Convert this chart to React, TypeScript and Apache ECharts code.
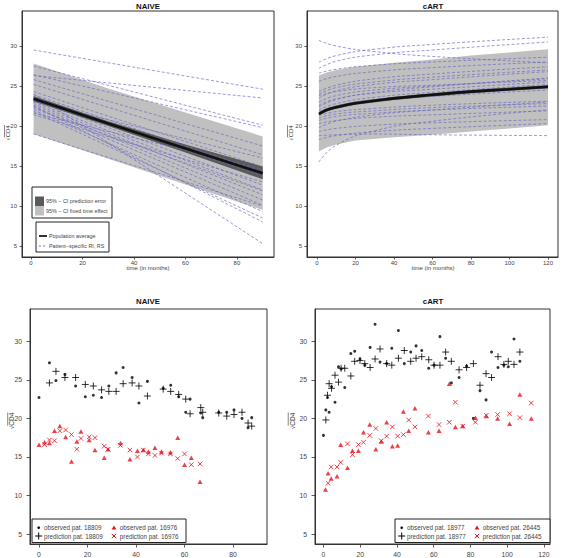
import React, { useEffect, useRef } from "react";
import * as echarts from "echarts";

// ---------- NAIVE: population fit, confidence bands, patient lines ----------
const naiveTime = [1, 30, 60, 90];
const naiveMean = [23.4, 20.3, 17.2, 14.1];
const naivePredLo = [23.05, 20.0, 16.7, 13.35];
const naivePredHi = [23.75, 20.6, 17.7, 14.95];
const naiveFixedLo = [19.0, 15.9, 12.7, 9.5];
const naiveFixedHi = [27.8, 24.7, 21.7, 18.7];

const naivePatientTime = [1, 90];
const naivePatients: number[][] = [
  [29.5, 24.6], [26.3, 23.5], [27.5, 20.1], [26.4, 19.8], [25.8, 17.5],
  [25.2, 16.4], [24.3, 14.9], [23.9, 14.3], [23.6, 13.7], [23.3, 12.6],
  [23.0, 12.0], [22.8, 11.4], [22.6, 10.75], [22.4, 10.1], [22.2, 11.9],
  [22.0, 9.3], [21.8, 8.5], [22.5, 8.0], [21.4, 13.0], [24.0, 5.3],
  [19.0, 10.0], [23.1, 16.0], [21.6, 14.6],
];

// ---------- cART: population fit, confidence bands, patient curves ----------
const cartTime = [1, 5, 10, 20, 40, 60, 80, 100, 120];
const cartMean = [21.5, 22.0, 22.35, 22.85, 23.45, 23.9, 24.3, 24.6, 24.9];
const cartPredLo = [21.3, 21.8, 22.15, 22.65, 23.25, 23.7, 24.1, 24.4, 24.7];
const cartPredHi = [21.7, 22.2, 22.55, 23.05, 23.65, 24.1, 24.5, 24.8, 25.1];
const cartFixedLo = [16.8, 17.3, 17.7, 18.2, 18.6, 18.9, 19.3, 19.7, 20.1];
const cartFixedHi = [26.3, 26.7, 27.0, 27.4, 27.9, 28.3, 28.8, 29.2, 29.6];

const cartPatientTime = [1, 10, 30, 60, 120];
const cartPatients: number[][] = [
  [30.7, 30.0, 29.3, 28.7, 27.9],
  [28.0, 28.8, 29.6, 30.2, 31.1],
  [27.2, 28.1, 28.9, 29.5, 30.5],
  [26.6, 27.1, 27.6, 28.0, 28.6],
  [25.6, 26.2, 26.8, 27.3, 28.0],
  [24.3, 25.1, 25.9, 26.5, 27.4],
  [24.0, 24.8, 25.5, 26.1, 27.0],
  [23.5, 24.4, 25.2, 25.8, 26.8],
  [23.8, 24.3, 24.8, 25.1, 25.7],
  [23.0, 23.8, 24.5, 25.0, 25.9],
  [22.6, 23.4, 24.1, 24.6, 25.5],
  [22.4, 23.3, 24.2, 24.9, 26.0],
  [22.0, 22.8, 23.6, 24.2, 25.2],
  [21.8, 22.5, 23.2, 23.7, 24.5],
  [21.6, 22.5, 23.3, 23.9, 24.9],
  [21.3, 21.8, 22.2, 22.6, 23.1],
  [21.0, 21.5, 21.9, 22.3, 22.8],
  [20.7, 21.2, 21.6, 22.0, 22.5],
  [20.3, 20.7, 21.1, 21.4, 21.9],
  [19.8, 20.6, 21.4, 22.0, 23.0],
  [19.3, 19.7, 20.1, 20.4, 20.8],
  [18.8, 18.9, 19.0, 18.9, 18.8],
  [18.3, 18.8, 19.3, 19.7, 20.3],
  [15.5, 17.6, 19.4, 20.6, 22.0],
];

// ---------- Individual patients: observed vs predicted ----------
const naiveObs18809: number[][] = [
  [0, 22.7], [4.3, 27.2], [7.0, 24.9], [10.7, 25.7], [15.1, 24.2], [19.1, 22.8],
  [22.4, 23.0], [25.8, 22.7], [28.8, 24.2], [31.8, 25.9], [34.7, 26.6], [38.4, 25.3],
  [41.2, 22.0], [44.7, 24.8], [51.2, 23.9], [54.3, 24.3], [57.6, 22.8], [60.5, 20.8],
  [62.3, 22.5], [66.7, 20.7], [67.5, 20.1], [74.1, 20.8], [77.4, 20.8], [80.4, 21.1],
  [83.7, 20.0], [86.2, 18.8], [87.7, 20.1],
];
const naivePred18809: number[][] = [
  [4.3, 24.6], [7.0, 26.1], [10.7, 25.3], [15.1, 25.3], [19.1, 24.4], [22.4, 24.2],
  [25.8, 23.7], [28.8, 23.5], [31.8, 23.5], [34.7, 24.5], [38.4, 24.6], [41.2, 24.2],
  [44.7, 22.9], [51.2, 23.8], [54.3, 23.5], [57.6, 23.1], [60.5, 22.5], [62.3, 20.6],
  [66.7, 21.4], [67.5, 20.8], [74.1, 20.7], [77.4, 20.3], [80.4, 20.5], [83.7, 20.8],
  [86.2, 19.4], [87.7, 19.0],
];
const naiveObs16976: number[][] = [
  [0, 16.6], [2.3, 16.9], [4.3, 16.8], [6.4, 18.4], [8.6, 19.0], [11.0, 17.6],
  [13.4, 14.4], [15.6, 17.0], [17.3, 18.3], [20.7, 17.2], [23.1, 15.9], [26.9, 14.9],
  [28.5, 16.0], [33.6, 16.8], [37.5, 14.7], [40.6, 15.8], [43.0, 15.9], [45.1, 15.7],
  [47.8, 16.2], [50.5, 15.7], [54.2, 15.6], [57.2, 17.5], [60.0, 14.0], [62.8, 14.9],
  [66.4, 11.8],
];
const naivePred16976: number[][] = [
  [2.3, 16.6], [4.3, 17.2], [6.4, 17.1], [8.6, 18.4], [11.0, 18.5], [13.4, 17.9],
  [15.6, 16.0], [17.3, 17.4], [20.7, 17.6], [23.1, 17.5], [26.9, 16.4], [28.5, 16.0],
  [33.6, 16.5], [37.5, 15.9], [40.6, 15.0], [43.0, 15.9], [45.1, 15.4], [47.8, 15.2],
  [50.5, 15.5], [54.2, 15.4], [57.2, 14.8], [60.0, 15.4], [62.8, 14.0], [66.4, 14.1],
];

const cartObs18977: number[][] = [
  [0, 17.8], [1.3, 21.1], [2.2, 22.7], [3.1, 20.8], [4.4, 24.1], [6.3, 22.1],
  [8.2, 26.7], [9.6, 26.4], [11.6, 24.0], [14.9, 28.4], [17.0, 28.7], [19.9, 27.7],
  [22.5, 26.9], [25.4, 29.2], [28.1, 32.2], [30.8, 27.3], [34.4, 27.1], [37.2, 29.1],
  [40.8, 31.4], [44.0, 27.1], [47.5, 28.6], [50.4, 29.4], [53.5, 28.8], [57.3, 26.5],
  [60.2, 26.9], [63.4, 30.6], [66.5, 27.8], [69.6, 24.6], [73.8, 25.3], [77.9, 26.8],
  [81.6, 20.0], [85.2, 23.6], [88.5, 22.4], [91.5, 28.6], [95.0, 26.6], [98.2, 26.9],
  [100.6, 26.7], [103.7, 30.3], [106.9, 27.4],
];
const cartPred18977: number[][] = [
  [1.3, 19.8], [2.2, 23.0], [3.1, 24.5], [4.4, 23.9], [6.3, 25.6], [8.2, 24.7],
  [9.6, 26.5], [11.6, 26.5], [14.9, 25.5], [17.0, 27.4], [19.9, 27.5], [22.5, 27.1],
  [25.4, 26.6], [28.1, 27.7], [30.8, 29.0], [34.4, 27.1], [37.2, 26.9], [40.8, 27.8],
  [44.0, 28.8], [47.5, 27.4], [50.4, 27.8], [53.5, 28.0], [57.3, 27.6], [60.2, 26.9],
  [63.4, 26.9], [66.5, 28.6], [69.6, 27.4], [73.8, 26.3], [77.9, 26.6], [81.6, 27.1],
  [85.2, 24.3], [88.5, 25.8], [91.5, 25.3], [95.0, 28.0], [98.2, 27.0], [100.6, 27.4],
  [103.7, 27.0], [106.9, 28.6],
];
const cartObs26445: number[][] = [
  [1.1, 10.8], [2.5, 12.9], [4.2, 12.2], [7.4, 12.5], [9.4, 16.6], [13.1, 13.6],
  [15.8, 15.8], [19.0, 15.8], [21.8, 18.2], [25.2, 19.2], [28.5, 16.0], [31.5, 17.0],
  [34.4, 19.5], [37.5, 16.4], [40.4, 16.5], [43.5, 20.9], [46.4, 18.4], [49.8, 21.3],
  [57.1, 18.2], [62.9, 18.4], [68.5, 24.5], [71.8, 18.9], [75.8, 19.0], [82.7, 20.1],
  [88.6, 20.3], [94.8, 20.0], [101.3, 19.3], [106.9, 23.1], [113.1, 20.0],
];
const cartPred26445: number[][] = [
  [2.5, 11.6], [4.2, 13.7], [7.4, 13.7], [9.4, 14.3], [13.1, 16.7], [15.8, 15.3],
  [19.0, 16.6], [21.8, 16.9], [25.2, 17.8], [28.5, 18.7], [31.5, 17.1], [34.4, 17.7],
  [37.5, 18.9], [40.4, 17.7], [43.5, 17.9], [46.4, 19.8], [49.8, 18.9], [57.1, 20.3],
  [62.9, 19.2], [68.5, 19.5], [71.8, 22.1], [75.8, 19.0], [82.7, 19.5], [88.6, 20.4],
  [94.8, 20.5], [101.3, 20.6], [106.9, 20.1], [113.1, 22.0],
];

const naiveTicks = [0, 20, 40, 60, 80];
const cartTicks = [0, 20, 40, 60, 80, 100, 120];
const yTicks = [5, 10, 15, 20, 25, 30];

const FONT = '"Liberation Sans", Arial, Helvetica, sans-serif';
const FRAME = "#333";
const LABEL = "#444";
const RED = "#e8101a";
const PATIENT = "#6a6ac4";
const PLUS = "path://M5,0L5,10M0,5L10,5";
const CROSS = "path://M0,0L10,10M0,10L10,0";

const zip = (xs: number[], ys: number[]) => xs.map((x, i) => [x, ys[i]]);

function xAxis(gi: number, min: number, max: number, ticks: number[], fontSize: number, margin: number, tick: number) {
  return {
    type: "value", gridIndex: gi, min, max,
    axisLine: { show: true, onZero: false, lineStyle: { color: FRAME, width: 1 } },
    axisTick: { show: true, inside: false, length: tick, customValues: ticks, lineStyle: { color: FRAME, width: 0.8 } },
    axisLabel: { customValues: ticks, fontSize, margin, color: LABEL, fontFamily: FONT },
    splitLine: { show: false },
  };
}
function yAxis(gi: number, min: number, max: number, fontSize: number, margin: number, tick: number) {
  return {
    type: "value", gridIndex: gi, min, max,
    axisLine: { show: true, onZero: false, lineStyle: { color: FRAME, width: 1 } },
    axisTick: { show: true, inside: false, length: tick, customValues: yTicks, lineStyle: { color: FRAME, width: 0.8 } },
    axisLabel: { customValues: yTicks, fontSize, margin, color: LABEL, fontFamily: FONT },
    splitLine: { show: false },
  };
}

// Confidence band: one filled polygon between the lower and upper bound,
// positioned through the grid's own coordinate system.
function band(gi: number, xs: number[], lo: number[], hi: number[], color: string, z: number) {
  return {
    type: "custom", xAxisIndex: gi, yAxisIndex: gi, silent: true, z,
    data: xs.map((x, i) => [x, lo[i], hi[i]]),
    encode: { x: 0, y: [1, 2] },
    renderItem: (params: any, api: any) => {
      if (params.dataIndex !== 0) return null;
      const upper = xs.map((x, i) => api.coord([x, hi[i]]));
      const lower = xs.map((x, i) => api.coord([x, lo[i]])).reverse();
      return { type: "polygon", shape: { points: upper.concat(lower) }, style: { fill: color } };
    },
  };
}

function patientLines(gi: number, xs: number[], rows: number[][], smooth: boolean) {
  return rows.map((r) => ({
    type: "line", xAxisIndex: gi, yAxisIndex: gi, smooth, symbol: "none", silent: true, z: 4,
    lineStyle: { color: PATIENT, width: 0.8, type: [3, 2], opacity: 0.85 },
    data: zip(xs, r),
  }));
}

function meanLine(gi: number, xs: number[], ys: number[], smooth: boolean) {
  return {
    type: "line", xAxisIndex: gi, yAxisIndex: gi, smooth, symbol: "none", silent: true, z: 5,
    lineStyle: { color: "#111", width: 2.6 },
    data: zip(xs, ys),
  };
}

function points(gi: number, data: number[][], kind: "dot" | "plus" | "tri" | "cross") {
  const base: any = { type: "scatter", xAxisIndex: gi, yAxisIndex: gi, silent: true, z: 6, data };
  if (kind === "dot") return { ...base, symbol: "circle", symbolSize: 3, itemStyle: { color: "#000" } };
  if (kind === "plus") return { ...base, symbol: PLUS, symbolSize: 7, itemStyle: { color: "transparent", borderColor: "#000", borderWidth: 1 } };
  if (kind === "tri") return { ...base, symbol: "triangle", symbolSize: [5, 4.5], itemStyle: { color: RED } };
  return { ...base, symbol: CROSS, symbolSize: 4.5, itemStyle: { color: "transparent", borderColor: RED, borderWidth: 1 } };
}

function text(x: number, y: number, s: string, size: number, opts: any = {}) {
  return {
    type: "text", x, y, silent: true,
    style: {
      text: s, fontSize: size, fontFamily: FONT, fill: opts.fill || LABEL,
      fontWeight: opts.bold ? "bold" : "normal",
      align: opts.align || "left", verticalAlign: "middle",
    },
  };
}

function sqrtLabel(x: number, y: number, size: number) {
  return {
    type: "group", x, y, rotation: Math.PI / 2, silent: true,
    children: [
      { type: "text", x: 0, y: 0, style: { text: "√CD4", fontSize: size, fontFamily: FONT, fill: "#333", align: "center", verticalAlign: "middle" } },
      { type: "line", shape: { x1: -0.45 * size * 1.6, y1: -size * 0.58, x2: size * 1.3, y2: -size * 0.58 }, style: { stroke: "#333", lineWidth: 0.6 } },
    ],
  };
}

function pairLegend(left: number, top: number, w: number, col2: number, a: string, b: string) {
  const r1 = top + 8.7;
  const r2 = top + 17;
  const m1 = left + 6.7;
  const m2 = left + col2;
  return [
    { type: "rect", shape: { x: left, y: top, width: w, height: 23.5 }, style: { fill: "#fff", stroke: "#222", lineWidth: 1 }, silent: true },
    { type: "circle", shape: { cx: m1, cy: r1, r: 1.3 }, style: { fill: "#000" }, silent: true },
    text(m1 + 5.3, r1, "observed pat. " + a, 6.3),
    { type: "polygon", shape: { points: [[m2 - 2.4, r1 + 1.8], [m2 + 2.4, r1 + 1.8], [m2, r1 - 2.2]] }, style: { fill: RED }, silent: true },
    text(m2 + 5.8, r1, "observed pat. " + b, 6.3),
    { type: "line", shape: { x1: m1 - 3.5, y1: r2, x2: m1 + 3.5, y2: r2 }, style: { stroke: "#000", lineWidth: 1 }, silent: true },
    { type: "line", shape: { x1: m1, y1: r2 - 3.5, x2: m1, y2: r2 + 3.5 }, style: { stroke: "#000", lineWidth: 1 }, silent: true },
    text(m1 + 5.3, r2, "prediction pat. " + a, 6.3),
    { type: "line", shape: { x1: m2 - 2.2, y1: r2 - 2.2, x2: m2 + 2.2, y2: r2 + 2.2 }, style: { stroke: RED, lineWidth: 1 }, silent: true },
    { type: "line", shape: { x1: m2 - 2.2, y1: r2 + 2.2, x2: m2 + 2.2, y2: r2 - 2.2 }, style: { stroke: RED, lineWidth: 1 }, silent: true },
    text(m2 + 5.8, r2, "prediction pat. " + b, 6.3),
  ];
}

export default function App() {
  const ref = useRef<HTMLDivElement>(null);

  useEffect(() => {
    document.body.style.margin = "0";
    if (!ref.current) return;
    const chart = echarts.init(ref.current, undefined, { renderer: "svg" });

    const grids = [
      { left: 22, top: 11, width: 252, height: 246 },
      { left: 307, top: 11, width: 251, height: 246 },
      { left: 30, top: 309, width: 237, height: 238.5 },
      { left: 315, top: 309, width: 235, height: 238.5 },
    ].map((g) => ({ ...g, show: true, borderColor: FRAME, borderWidth: 1, backgroundColor: "transparent", containLabel: false }));

    const series: any[] = [
      band(0, naiveTime, naiveFixedLo, naiveFixedHi, "#c0c0c0", 1),
      band(0, naiveTime, naivePredLo, naivePredHi, "#5a5a5a", 2),
      ...patientLines(0, naivePatientTime, naivePatients, false),
      meanLine(0, naiveTime, naiveMean, false),

      band(1, cartTime, cartFixedLo, cartFixedHi, "#c0c0c0", 1),
      band(1, cartTime, cartPredLo, cartPredHi, "#5a5a5a", 2),
      ...patientLines(1, cartPatientTime, cartPatients, true),
      meanLine(1, cartTime, cartMean, true),

      points(2, naiveObs18809, "dot"),
      points(2, naivePred18809, "plus"),
      points(2, naiveObs16976, "tri"),
      points(2, naivePred16976, "cross"),

      points(3, cartObs18977, "dot"),
      points(3, cartPred18977, "plus"),
      points(3, cartObs26445, "tri"),
      points(3, cartPred26445, "cross"),
    ];

    const graphic: any[] = [
      text(148, 6.5, "NAIVE", 7.8, { bold: true, align: "center", fill: "#111" }),
      text(433, 6.5, "cART", 7.8, { bold: true, align: "center", fill: "#111" }),
      text(148, 301.5, "NAIVE", 7.8, { bold: true, align: "center", fill: "#111" }),
      text(433, 301.5, "cART", 7.8, { bold: true, align: "center", fill: "#111" }),
      text(148, 268, "time (in months)", 6, { align: "center" }),
      text(433, 268, "time (in months)", 6, { align: "center" }),
      sqrtLabel(8, 133, 6),
      sqrtLabel(291, 133, 6),
      sqrtLabel(11.5, 421, 6.5),
      sqrtLabel(292, 421, 6.5),

      // band legend
      { type: "rect", shape: { x: 32, y: 187, width: 80, height: 31 }, style: { fill: "#fff", stroke: "#222", lineWidth: 1 }, silent: true },
      { type: "rect", shape: { x: 35, y: 196.5, width: 9, height: 9.5 }, style: { fill: "#5a5a5a" }, silent: true },
      { type: "rect", shape: { x: 35, y: 206, width: 9, height: 9.5 }, style: { fill: "#c0c0c0" }, silent: true },
      text(46, 201.3, "95% − CI prediction error", 5.4),
      text(46, 210.8, "95% − CI fixed time effect", 5.4),
      // line legend
      { type: "rect", shape: { x: 36, y: 222, width: 73, height: 30 }, style: { fill: "#fff", stroke: "#222", lineWidth: 1 }, silent: true },
      { type: "line", shape: { x1: 39, y1: 236, x2: 47, y2: 236 }, style: { stroke: "#333", lineWidth: 2 }, silent: true },
      text(49, 236, "Population average", 5.4),
      { type: "line", shape: { x1: 39, y1: 246, x2: 47, y2: 246 }, style: { stroke: PATIENT, lineWidth: 0.9, lineDash: [2, 2] }, silent: true },
      text(49, 246, "Patient−specific RI, RS", 5.4),

      ...pairLegend(32, 519, 154, 82, "18809", "16976"),
      ...pairLegend(395, 519, 155, 82, "18977", "26445"),
    ];

    chart.setOption({
      animation: false,
      backgroundColor: "#fff",
      grid: grids,
      xAxis: [
        xAxis(0, -3.5, 94.4, naiveTicks, 6, 3, 2.5),
        xAxis(1, -5.2, 125.2, cartTicks, 6, 3, 2.5),
        xAxis(2, -3.7, 94.0, naiveTicks, 6.8, 7, 3.5),
        xAxis(3, -4.6, 123.3, cartTicks, 6.8, 7, 3.5),
      ],
      yAxis: [
        yAxis(0, 3.625, 34.375, 6, 5, 2.5),
        yAxis(1, 3.625, 34.375, 6, 5, 2.5),
        yAxis(2, 3.72, 34.18, 6.8, 8, 3.5),
        yAxis(3, 3.72, 34.18, 6.8, 8, 3.5),
      ],
      series,
      graphic,
    });

    return () => chart.dispose();
  }, []);

  return <div ref={ref} style={{ width: 563, height: 558 }} />;
}
